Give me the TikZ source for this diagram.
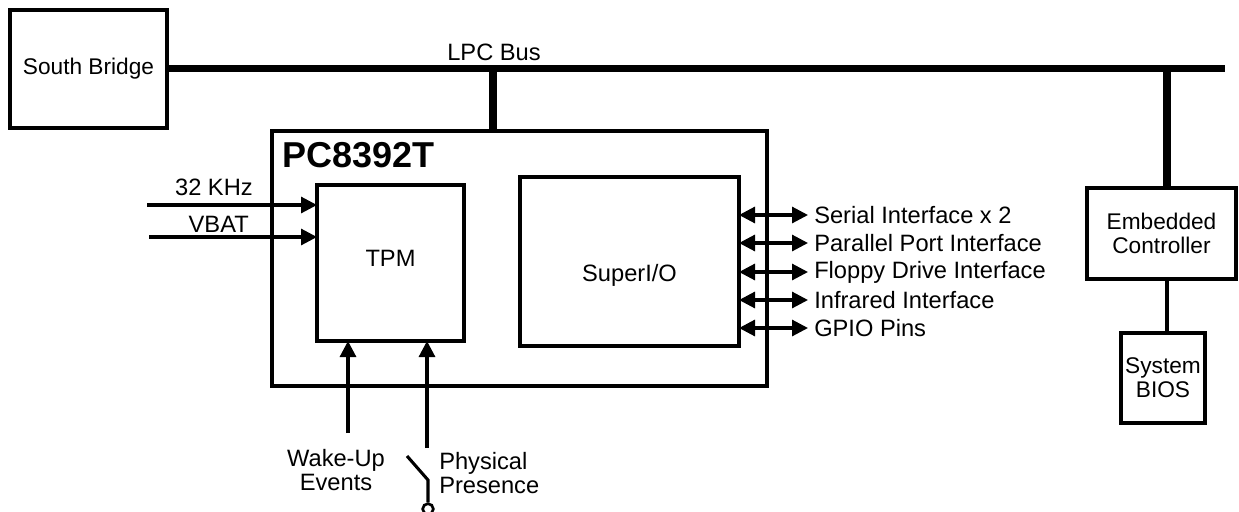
\documentclass[tikz,border=0pt]{standalone}
\usepackage{fontspec}
\setmainfont{Liberation Sans}
\usetikzlibrary{arrows.meta,calc}
\begin{document}
\begin{tikzpicture}[x=0.75pt,y=-0.75pt,
  every node/.style={font=\fontsize{17.75}{18.5}\selectfont},
  small/.style={font=\fontsize{17}{18}\selectfont},
  box/.style={draw,line width=2.4pt,inner sep=0pt,outer sep=0pt,align=center},
  bus/.style={line width=5.6pt},
  sig/.style={line width=2.3pt,-{Triangle[length=12pt,width=12pt]}},
  dsig/.style={line width=2.3pt,{Triangle[length=12pt,width=12pt]}-{Triangle[length=12pt,width=12pt]}},
  lbl/.style={inner sep=0pt,align=center}]
\useasboundingbox (0,0) rectangle (1239,511);
% boxes
\node[box,small,minimum width=117.75pt,minimum height=88.5pt] (sb) at (88.5,69) {South Bridge};
\node[box,minimum width=371.25pt,minimum height=191.25pt] (pc) at (519.5,258.5) {};
\node[box,minimum width=110.25pt,minimum height=117pt] (tpm) at (390.5,263) {};
\node[lbl] (tpmlbl) at (390.5,258) {TPM};
\node[box,minimum width=164.25pt,minimum height=126.75pt] (sio) at (629.5,261.5) {};
\node[lbl] (siolbl) at (629.5,275) {SuperI/O};
\node[box,small,minimum width=111.75pt,minimum height=68.25pt] (ec) at (1161.5,233.5) {Embedded\\Controller};
\node[box,small,minimum width=63pt,minimum height=67.5pt] (bios) at (1163,378) {System\\BIOS};
% title
\node[lbl,anchor=base west,font=\fontsize{27}{30}\selectfont\bfseries] (title) at (282,167) {PC8392T};
% bus
\coordinate (busend) at (1225,68.5);
\coordinate (tapA) at (493,68.5);
\coordinate (tapB) at (1167,68.5);
\draw[bus] (sb.east |- busend) -- (busend);
\draw[bus] (tapA) -- (pc.north -| tapA);
\draw[bus] (tapB) -- (ec.north -| tapB);
\node[lbl] (lpc) at (494,52) {LPC Bus};
\draw[line width=2.4pt] (ec.south -| tapB) -- (bios.north -| tapB);
% TPM inputs
\coordinate (clkin) at (147,205);
\coordinate (vbatin) at (149,237);
\draw[sig] (clkin) -- (tpm.west |- clkin);
\draw[sig] (vbatin) -- (tpm.west |- vbatin);
\node[lbl,anchor=east] (clklbl) at (253,187) {32 KHz};
\node[lbl,anchor=east] (vbatlbl) at (249,224) {VBAT};
\coordinate (wakein) at (348,433);
\coordinate (ppin) at (427,448);
\draw[sig] (wakein) -- (tpm.south -| wakein);
\draw[sig] (ppin) -- (tpm.south -| ppin);
\node[lbl] (wakelbl) at (336,470) {Wake-Up\\Events};
\node[lbl,anchor=west,align=left] (pplbl) at (439,473) {Physical\\Presence};
% switch
\coordinate (sw1) at (407,456);
\coordinate (sw2) at (428,480);
\node[draw,circle,line width=2pt,minimum size=8pt,inner sep=0pt] (contact) at (428,509) {};
\draw[line width=2.3pt] (sw1) -- (sw2) -- (contact.north);
% SuperI/O side
\foreach \yy/\txt [count=\i] in {215/Serial Interface x 2,243/Parallel Port Interface,272/Floppy Drive Interface,300/Infrared Interface,328/GPIO Pins}{
  \coordinate (io\i) at (808,\yy);
  \draw[dsig] (sio.east |- io\i) -- (io\i);
  \node[lbl,anchor=west] (iolbl\i) at (814,\yy) {\txt};
}
\end{tikzpicture}
\end{document}
